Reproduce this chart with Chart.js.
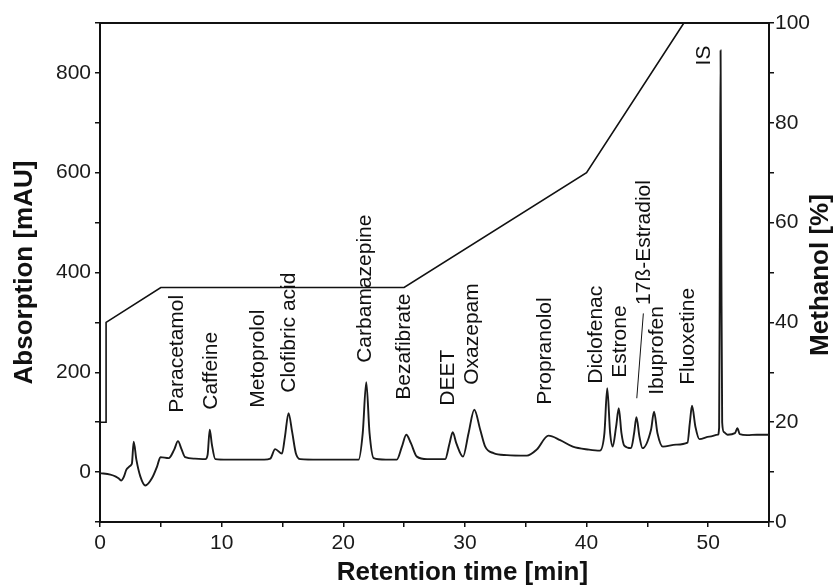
<!DOCTYPE html>
<html>
<head>
<meta charset="utf-8">
<script src="https://cdn.jsdelivr.net/npm/chart.js@4.4.1/dist/chart.umd.min.js"></script>
<style>
  html, body { margin: 0; padding: 0; background: #ffffff; }
  #wrap { width: 836px; height: 586px; }
</style>
</head>
<body>
<div id="wrap"><canvas id="c" width="836" height="586"></canvas></div>
<script>
// ---- Chromatogram (retention time in min, absorption in mAU) ----
const timeMin = [
  0.0, 0.85, 1.3, 1.55, 1.73, 1.95, 2.17, 2.36, 2.55, 2.63, 2.77, 2.99, 3.32, 3.73, 4.28, 4.69, 4.97,
  5.65, 6.1, 6.41, 6.7, 7.0, 7.8, 8.66, 8.85, 9.02, 9.2, 9.48, 10.5, 12.0, 13.5, 14.0, 14.4, 14.96,
  15.2, 15.5, 15.8, 16.1, 16.47, 18.0, 20.0, 21.26, 21.6, 21.89, 22.16, 22.5, 23.5, 24.4, 24.82, 25.18,
  25.56, 26.05, 26.9, 28.0, 28.38, 28.74, 29.0, 29.29, 29.84, 30.3, 30.77, 31.26, 31.67, 32.35, 33.45,
  35.1, 35.9, 36.87, 37.83, 38.87, 40.2, 41.1, 41.47, 41.7, 41.94, 42.15, 42.43, 42.65, 42.87, 43.1,
  43.66, 43.91, 44.1, 44.35, 44.6, 45.3, 45.55, 45.83, 46.27, 47.36, 48.3, 48.49, 48.67, 48.95, 49.28,
  50.1, 50.8, 50.9, 50.97, 51.02, 51.08, 51.15, 51.3, 51.6, 52.2, 52.4, 52.6, 53.2, 54.0, 55.0
];
const absorbance = [
  -2, -5, -9, -13, -17, -10, 5, 10, 14, 18, 61, 25, -9, -27, -12, 11, 30,
  28, 45, 62, 46, 30, 27, 26, 35, 85, 55, 26, 25, 25, 25, 27, 46, 37,
  70, 118, 80, 38, 26, 25, 25, 25, 78, 180, 78, 28, 25, 25, 51, 75,
  58, 31, 26, 26, 26, 58, 80, 58, 31, 78, 125, 85, 51, 38, 34,
  33, 45, 73, 64, 51, 45, 43, 78, 168, 78, 51, 91, 128, 78, 53,
  48, 78, 110, 71, 48, 85, 121, 78, 51, 55, 59, 98, 133, 91, 66,
  71, 75, 90, 500, 845, 450, 100, 80, 75, 78, 88, 76, 74, 75, 75
];

// ---- Methanol gradient (min, %) ----
const gradTime = [0, 0.5, 0.5, 5, 25, 40, 48, 55];
const gradMethanol = [20, 20, 40, 47, 47, 70, 100, 100];

// ---- Peak annotations (name, label anchor in min / mAU) ----
const peakNames = ['Paracetamol', 'Caffeine', 'Metoprolol', 'Clofibric acid', 'Carbamazepine',
  'Bezafibrate', 'DEET', 'Oxazepam', 'Propranolol', 'Diclofenac', 'Estrone', '17ß-Estradiol',
  'Ibuprofen', 'Fluoxetine', 'IS'];
const peakLabelTime = [6.38, 9.15, 13.02, 15.56, 21.8, 25.0, 28.63, 30.6, 36.6, 40.8, 42.76, 44.74,
  45.8, 48.35, 49.66];
const peakLabelAbs = [119, 125, 129, 159, 219, 145, 133, 175, 135, 177, 189, 335, 155, 175, 815];
// leader line for 17ß-Estradiol (min, mAU)
const leaderTime = [44.13, 44.67];
const leaderAbs = [148, 318];

// ---- Axis ranges / titles ----
const xRange = [0, 55];
const yRange = [-100, 900];
const y2Range = [0, 100];
const xTitle = 'Retention time [min]';
const yTitle = 'Absorption [mAU]';
const y2Title = 'Methanol [%]';

const FONT = "'Liberation Sans', Arial, Helvetica, sans-serif";

const chromPts = timeMin.map((t, i) => ({ x: t, y: absorbance[i] }));
const gradPts = gradTime.map((t, i) => ({ x: t, y: gradMethanol[i] }));

const annotPlugin = {
  id: 'annot',
  afterDatasetsDraw(chart) {
    const ctx = chart.ctx;
    const xs = chart.scales.x, ys = chart.scales.y;
    const a = chart.chartArea;
    ctx.save();
    // top frame line
    ctx.strokeStyle = '#111';
    ctx.lineWidth = 2;
    ctx.beginPath();
    ctx.moveTo(a.left - 1, a.top);
    ctx.lineTo(a.right + 1, a.top);
    ctx.stroke();
    // leader line
    ctx.lineWidth = 1;
    ctx.beginPath();
    ctx.moveTo(xs.getPixelForValue(leaderTime[0]), ys.getPixelForValue(leaderAbs[0]));
    ctx.lineTo(xs.getPixelForValue(leaderTime[1]), ys.getPixelForValue(leaderAbs[1]));
    ctx.stroke();
    // peak labels
    ctx.fillStyle = '#111';
    ctx.font = '21px ' + FONT;
    ctx.textAlign = 'left';
    ctx.textBaseline = 'middle';
    peakNames.forEach((n, i) => {
      const px = xs.getPixelForValue(peakLabelTime[i]);
      const py = ys.getPixelForValue(peakLabelAbs[i]);
      ctx.save();
      ctx.translate(px, py);
      ctx.rotate(-Math.PI / 2);
      ctx.fillText(n, 0, 0);
      ctx.restore();
    });
    // axis titles
    ctx.font = 'bold 26px ' + FONT;
    ctx.textAlign = 'center';
    ctx.textBaseline = 'middle';
    const midY = (a.top + a.bottom) / 2;
    ctx.fillText(xTitle, (a.left + a.right) / 2 + 28, 573);
    ctx.save();
    ctx.translate(25, midY);
    ctx.rotate(-Math.PI / 2);
    ctx.fillText(yTitle, 0, 0);
    ctx.restore();
    ctx.save();
    ctx.translate(821, 275);
    ctx.rotate(-Math.PI / 2);
    ctx.fillText(y2Title, 0, 0);
    ctx.restore();
    ctx.restore();
  }
};

const tickFont = { family: FONT, size: 21 };
const axisCommon = {
  border: { display: true, color: '#111', width: 2 },
  grid: { drawOnChartArea: false, drawTicks: true, tickLength: 5, tickColor: '#111', lineWidth: 1.5 },
};

new Chart(document.getElementById('c'), {
  type: 'scatter',
  data: {
    datasets: [
      {
        label: 'Chromatogram',
        data: chromPts,
        yAxisID: 'y',
        showLine: true,
        borderColor: '#1a1a1a',
        borderWidth: 1.9,
        pointRadius: 0,
        cubicInterpolationMode: 'monotone',
        fill: false
      },
      {
        label: 'Methanol',
        data: gradPts,
        yAxisID: 'y2',
        showLine: true,
        borderColor: '#111',
        borderWidth: 1.6,
        pointRadius: 0,
        tension: 0,
        fill: false
      }
    ]
  },
  options: {
    responsive: false,
    animation: false,
    devicePixelRatio: 1,
    layout: { padding: { top: 23, left: 0, right: 0, bottom: 0 } },
    plugins: { legend: { display: false }, tooltip: { enabled: false } },
    scales: {
      x: {
        type: 'linear',
        position: 'bottom',
        min: xRange[0], max: xRange[1],
        ...axisCommon,
        afterFit: s => { s.height = 64; },
        ticks: {
          stepSize: 5, padding: 4, color: '#1a1a1a', font: tickFont, maxRotation: 0, autoSkip: false,
          callback: v => (v % 10 === 0 ? String(v) : '')
        }
      },
      y: {
        type: 'linear',
        position: 'left',
        min: yRange[0], max: yRange[1],
        ...axisCommon,
        afterFit: s => { s.width = 100; },
        ticks: {
          stepSize: 100, padding: 4, color: '#1a1a1a', font: tickFont, autoSkip: false,
          callback: v => (v % 200 === 0 ? String(v) : '')
        }
      },
      y2: {
        type: 'linear',
        position: 'right',
        min: y2Range[0], max: y2Range[1],
        ...axisCommon,
        afterFit: s => { s.width = 67; },
        ticks: {
          stepSize: 10, padding: 1, color: '#1a1a1a', font: tickFont, autoSkip: false,
          callback: v => (v % 20 === 0 ? String(v) : '')
        }
      }
    }
  },
  plugins: [annotPlugin]
});
</script>
</body>
</html>
